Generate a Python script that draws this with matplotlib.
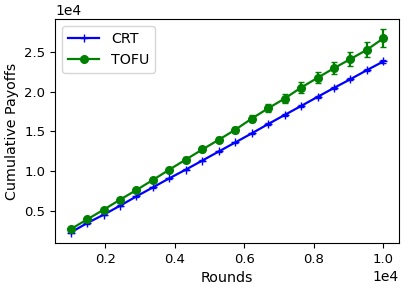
import matplotlib
matplotlib.use('Agg')
import matplotlib.pyplot as plt
import numpy as np

TICK_SIZE = 9.5
LABEL_SIZE = 10.3
LEGEND_SIZE = 10.3

rounds = [1000, 1473.7, 1947.4, 2421.1, 2894.7, 3368.4, 3842.1, 4315.8, 4789.5, 5263.2,
          5736.8, 6210.5, 6684.2, 7157.9, 7631.6, 8105.3, 8578.9, 9052.6, 9526.3, 10000]
crt = [2310, 3490, 4540, 5670, 6850, 7980, 9120, 10210, 11340, 12480,
       13610, 14750, 15920, 17060, 18190, 19330, 20460, 21550, 22690, 23780]
crt_err = [40, 50, 50, 60, 60, 70, 70, 80, 80, 90,
           90, 100, 100, 110, 110, 120, 120, 130, 140, 150]
tofu = [2730, 3950, 5170, 6430, 7650, 8910, 10210, 11470, 12730, 13950,
        15210, 16600, 17900, 19120, 20500, 21720, 22940, 24080, 25250, 26680]
tofu_err = [100, 120, 150, 180, 200, 220, 250, 280, 300, 330,
            380, 450, 520, 600, 650, 700, 780, 850, 950, 1130]

fig, ax1 = plt.subplots(figsize=(4.09, 2.9), dpi=100)
plt.subplots_adjust(left=0.1345, bottom=0.162, right=0.9756, top=0.934)

c1 = ax1.errorbar(rounds, crt, yerr=crt_err, color='blue', marker='+', markersize=6,
                  linewidth=1.6, capsize=2.5, label='CRT')
c2 = ax1.errorbar(rounds, tofu, yerr=tofu_err, color='green', marker='o', markersize=5.5,
                  linewidth=1.6, capsize=2.5, label='TOFU')

ax1.ticklabel_format(style='sci', axis='both', scilimits=(0, 0))
ax1.xaxis.get_offset_text().set_fontsize(10)
ax1.yaxis.get_offset_text().set_fontsize(10)
ax1.set_xticks([2000, 4000, 6000, 8000, 10000])
ax1.set_yticks([5000, 10000, 15000, 20000, 25000])
ax1.tick_params(axis='both', labelsize=TICK_SIZE)
ax1.set_xlabel('Rounds', fontsize=LABEL_SIZE)
ax1.set_ylabel('Cumulative Payoffs', fontsize=LABEL_SIZE)
ax1.legend(handles=[c1[0], c2[0]], labels=['CRT', 'TOFU'], loc='upper left',
           fontsize=LEGEND_SIZE, handlelength=2.2)

fig.savefig('out.png', dpi=100)
